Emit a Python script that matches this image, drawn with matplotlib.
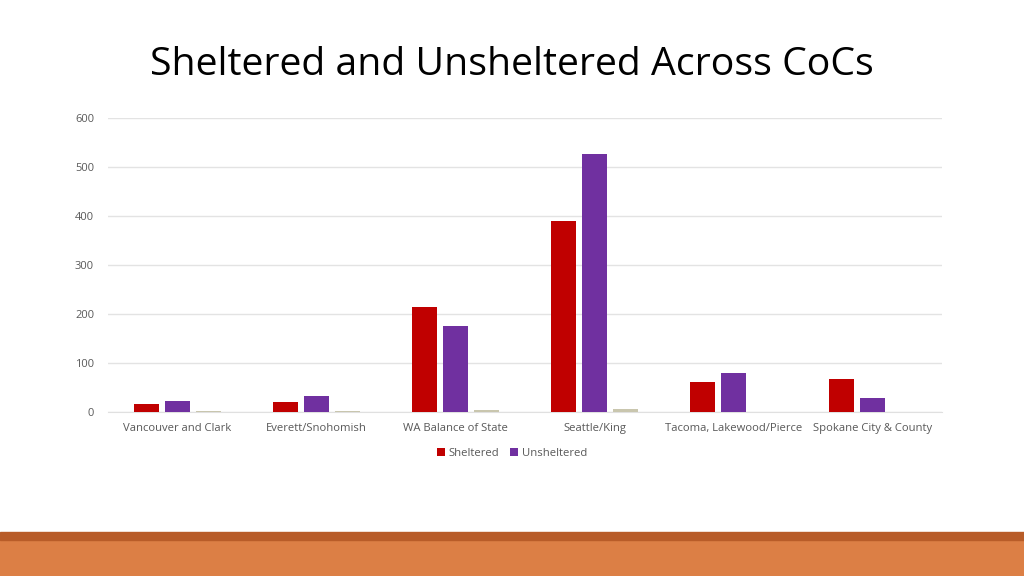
import matplotlib
matplotlib.use("Agg")
import matplotlib.pyplot as plt
import numpy as np
from matplotlib.patches import Rectangle

# data
categories = ["Vancouver and Clark", "Everett/Snohomish", "WA Balance of State",
              "Seattle/King", "Tacoma, Lakewood/Pierce", "Spokane City & County"]
sheltered = [16, 20, 214, 391, 60, 66]
unsheltered = [21, 32, 175, 527, 80, 29]
other = [1, 1, 3, 5, 0, 0]   # third (unlabelled) series
yticks = [0, 100, 200, 300, 400, 500, 600]

plt.rcParams['font.family'] = ['Open Sans', 'DejaVu Sans']

fig = plt.figure(figsize=(10.24, 5.76), dpi=100)

# orange footer band
fig.patches.append(Rectangle((0, 0), 1, 36 / 576, transform=fig.transFigure,
                             color="#DC7F45", zorder=0))
fig.patches.append(Rectangle((0, 36 / 576), 1, 8 / 576, transform=fig.transFigure,
                             color="#B85C28", zorder=0))

fig.text(0.5, 1 - 65 / 576, "Sheltered and Unsheltered Across CoCs",
         ha="center", va="center", fontsize=28.3, color="black")

ax = fig.add_axes([108 / 1024, 1 - 411.7 / 576, (942 - 108) / 1024, (411.7 - 118.3) / 576])

x = np.arange(len(categories))
w = 0.173
off = 0.223
ax.bar(x - off, sheltered, w, color="#C00000", label="Sheltered", zorder=3)
ax.bar(x, unsheltered, w, color="#7030A0", label="Unsheltered", zorder=3)
ax.bar(x + off, other, w, color="#C9C6AE", zorder=3)

ax.set_xlim(-0.5, len(categories) - 0.5)
ax.set_ylim(0, 600)
ax.set_yticks(yticks)
ax.yaxis.grid(True, color="#E3E3E3", linewidth=1, zorder=0)
ax.set_axisbelow(True)
for s in ["top", "right", "left"]:
    ax.spines[s].set_visible(False)
ax.spines["bottom"].set_color("#E0E0E0")
ax.tick_params(axis="both", length=0, colors="#595959", labelsize=8)
ax.tick_params(axis="y", pad=10)
ax.tick_params(axis="x", pad=8)
ax.set_xticks(x)
ax.set_xticklabels(categories, fontsize=8.1)

fig.legend(loc="center", bbox_to_anchor=(0.5, 1 - 453 / 576), ncol=2, frameon=False,
           fontsize=8.1, handlelength=0.7, handleheight=0.7, handletextpad=0.3,
           columnspacing=1.0, labelcolor="#595959")

fig.savefig("out.png", dpi=100, facecolor="white")
